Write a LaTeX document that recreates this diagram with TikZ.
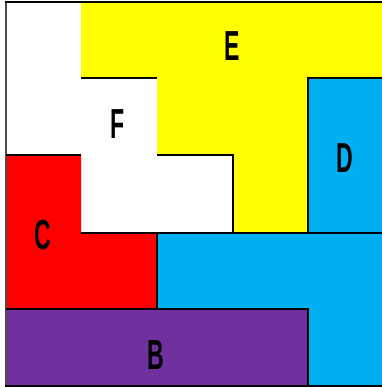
\documentclass[tikz,border=0pt]{standalone}
\usepackage{fontspec}
\setmainfont{Liberation Sans}
\definecolor{eyel}{HTML}{FFFF00}
\definecolor{dblue}{HTML}{00B0F0}
\definecolor{cred}{HTML}{FF0000}
\definecolor{bpur}{HTML}{7030A0}
\begin{document}
\begin{tikzpicture}[x=1pt,y=-1pt,
  edge/.style={black,line width=1.6pt},
  lbl/.style={font=\fontsize{42}{42}\selectfont\bfseries,inner sep=0pt}]
\useasboundingbox (0,0) rectangle (381,387);
\fill[white] (0,0) rectangle (381,387);
% fills
\fill[eyel] (81,2)--(384,2)--(384,78)--(308,78)--(308,233)--(233,233)--(233,155)--(157,155)--(157,78)--(81,78)--cycle;
\fill[cred] (6,155)--(81,155)--(81,233)--(157,233)--(157,309)--(6,309)--cycle;
\fill[dblue] (308,78) rectangle (384,233);
\fill[dblue] (157,233)--(384,233)--(384,386)--(308,386)--(308,309)--(157,309)--cycle;
\fill[bpur] (6,309) rectangle (308,386);
% edges
\draw[black!70,line width=1.2pt] (6,2)--(6,386);
\draw[black,line width=2.6pt] (5,2)--(384,2);
\draw[edge] (5,386)--(384,386);
\draw[edge] (81,78)--(157,78);
\draw[edge] (157,155)--(233,155)--(233,233);
\draw[edge] (308,233)--(308,78)--(384,78);
\draw[edge] (6,155)--(81,155);
\draw[edge] (81,233)--(384,233);
\draw[edge] (157,233)--(157,309);
\draw[edge] (6,309)--(308,309)--(308,386);
% labels
\node[lbl] (E) at (232,46) {\scalebox{0.55}[1]{E}};
\node[lbl] (F) at (118,124) {\scalebox{0.55}[1]{F}};
\node[lbl] (D) at (345,158) {\scalebox{0.55}[1]{D}};
\node[lbl] (C) at (43,235) {\scalebox{0.55}[1]{C}};
\node[lbl] (B) at (156,355) {\scalebox{0.55}[1]{B}};
\end{tikzpicture}
\end{document}
